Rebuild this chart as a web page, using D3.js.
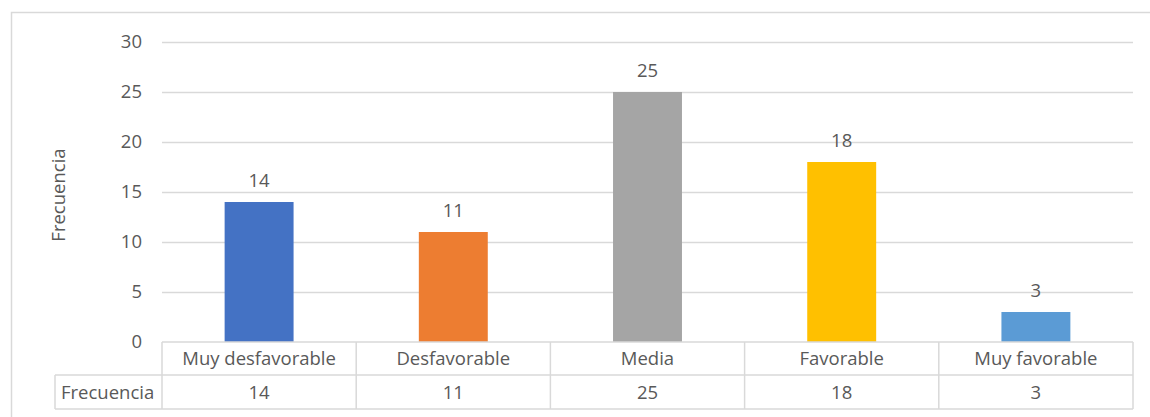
<!DOCTYPE html>
<html>
<head>
<meta charset="utf-8">
<script src="https://cdn.jsdelivr.net/npm/d3@7/dist/d3.min.js"></script>
<style>
  html, body { margin: 0; padding: 0; background: #fff; }
  svg text { font-family: "Open Sans", "Noto Sans", sans-serif; fill: #595959; }
</style>
</head>
<body>
<svg id="chart" width="1150" height="417"></svg>
<script>
// Frequency of responses per rating category
const categories = ["Muy desfavorable", "Desfavorable", "Media", "Favorable", "Muy favorable"];
const frecuencia = [14, 11, 25, 18, 3];
const barColors = ["#4472C4", "#ED7D31", "#A5A5A5", "#FFC000", "#5B9BD5"];
const yTicks = [0, 5, 10, 15, 20, 25, 30];
const seriesName = "Frecuencia";
const yTitle = "Frecuencia";

const svg = d3.select("#chart");
const fontSize = 18.5;

const plot = { left: 162, right: 1133, top: 42, bottom: 342 };
const table = { left: 55, row1: 342, row2: 375, bottom: 409 };
const grid = "#d9d9d9";

// Chart area frame
svg.append("rect")
  .attr("x", 11.5).attr("y", 12.5)
  .attr("width", 1160).attr("height", 420)
  .attr("fill", "none").attr("stroke", grid).attr("stroke-width", 1.5);

const y = d3.scaleLinear().domain([0, 30]).range([plot.bottom, plot.top]);
const x = d3.scaleBand().domain(categories)
  .range([plot.left, plot.right])
  .paddingInner(0.645).paddingOuter(0.3225);
const cols = d3.scaleBand().domain(categories).range([plot.left, plot.right]).padding(0);

// Horizontal gridlines
svg.append("g").selectAll("line")
  .data(yTicks.filter(d => d > 0))
  .join("line")
  .attr("x1", plot.left).attr("x2", plot.right)
  .attr("y1", d => Math.round(y(d)) + 0.5).attr("y2", d => Math.round(y(d)) + 0.5)
  .attr("stroke", grid).attr("stroke-width", 1.3);

// Y axis tick labels
const yAxis = d3.axisLeft(y).tickValues(yTicks).tickSize(0).tickPadding(20);
const gy = svg.append("g").attr("transform", `translate(${plot.left},0)`).call(yAxis);
gy.select(".domain").remove();
gy.selectAll("text")
  .attr("font-size", fontSize)
  .attr("font-family", null)
  .attr("fill", "#595959");

// Y axis title
svg.append("text")
  .attr("transform", `translate(65,195) rotate(-90)`)
  .attr("text-anchor", "middle")
  .attr("font-size", fontSize)
  .text(yTitle);

// Bars
svg.append("g").selectAll("rect")
  .data(categories)
  .join("rect")
  .attr("x", d => x(d))
  .attr("width", x.bandwidth())
  .attr("y", (d, i) => y(frecuencia[i]))
  .attr("height", (d, i) => y(0) - y(frecuencia[i]))
  .attr("fill", (d, i) => barColors[i]);

// Value labels above bars
svg.append("g").selectAll("text")
  .data(categories)
  .join("text")
  .attr("x", d => x(d) + x.bandwidth() / 2)
  .attr("y", (d, i) => y(frecuencia[i]) - 15)
  .attr("text-anchor", "middle")
  .attr("font-size", fontSize)
  .text((d, i) => frecuencia[i]);

// Data table under the plot
const tg = svg.append("g").attr("stroke", grid).attr("stroke-width", 1.5).attr("fill", "none");
tg.append("line").attr("x1", plot.left).attr("x2", plot.right).attr("y1", table.row1).attr("y2", table.row1);
tg.append("line").attr("x1", table.left).attr("x2", plot.right).attr("y1", table.row2).attr("y2", table.row2);
tg.append("line").attr("x1", table.left).attr("x2", plot.right).attr("y1", table.bottom).attr("y2", table.bottom);
tg.append("line").attr("x1", table.left).attr("x2", table.left).attr("y1", table.row2).attr("y2", table.bottom);
tg.selectAll(".vline")
  .data(categories.concat(["end"]))
  .join("line")
  .attr("x1", d => d === "end" ? plot.right : cols(d))
  .attr("x2", d => d === "end" ? plot.right : cols(d))
  .attr("y1", table.row1).attr("y2", table.bottom);

// Category headers
svg.append("g").selectAll("text")
  .data(categories)
  .join("text")
  .attr("x", d => cols(d) + cols.bandwidth() / 2)
  .attr("y", 365)
  .attr("text-anchor", "middle")
  .attr("font-size", fontSize)
  .text(d => d);

// Series row
svg.append("text")
  .attr("x", 61).attr("y", 399)
  .attr("font-size", fontSize)
  .text(seriesName);
svg.append("g").selectAll("text")
  .data(categories)
  .join("text")
  .attr("x", d => cols(d) + cols.bandwidth() / 2)
  .attr("y", 399)
  .attr("text-anchor", "middle")
  .attr("font-size", fontSize)
  .text((d, i) => frecuencia[i]);
</script>
</body>
</html>
